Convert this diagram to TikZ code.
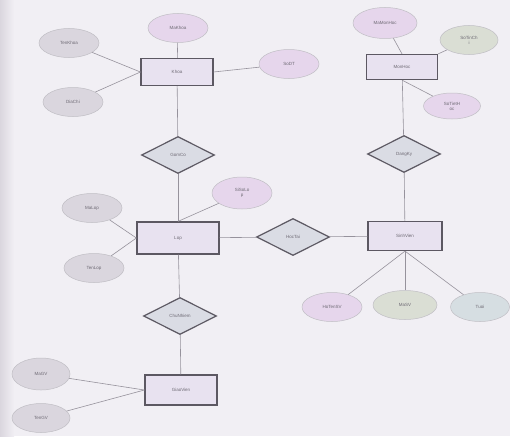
\documentclass[tikz,border=0pt]{standalone}
\usepackage{fontspec}
\setmainfont{Liberation Sans}
\usetikzlibrary{shapes.geometric}
\definecolor{paper}{RGB}{241,239,244}
\definecolor{edgegray}{RGB}{150,146,156}
\definecolor{boxline}{RGB}{92,88,98}
\definecolor{txtgray}{RGB}{110,106,116}
\definecolor{attrpink}{RGB}{230,214,236}
\definecolor{attrgray}{RGB}{218,214,222}
\definecolor{attrgreen}{RGB}{218,222,212}
\definecolor{attrblue}{RGB}{214,222,226}
\definecolor{entfill}{RGB}{232,226,240}
\definecolor{relfill}{RGB}{218,220,228}
\begin{document}
\begin{tikzpicture}[x=1pt, y=-1pt,
  every node/.style={font=\fontsize{4.5}{5}\selectfont, text=txtgray, align=center},
  entity/.style={rectangle, draw=boxline, line width=1.2pt, fill=entfill, minimum width=72pt, minimum height=27pt, inner sep=0pt},
  rel/.style={diamond, draw=boxline, line width=1.2pt, fill=relfill, aspect=1.9, minimum width=73pt, minimum height=37pt, inner sep=0pt},
  attr/.style={ellipse, draw=edgegray!60, line width=.5pt, minimum width=60pt, minimum height=29pt, inner sep=0pt},
  conn/.style={draw=edgegray, line width=.6pt}]
\fill[paper] (0,0) rectangle (510,436);
\fill[left color=attrgray, right color=paper] (0,0) rectangle (14,436);
\node[entity] (khoa) at (177,72){Khoa};
\node[attr, fill=attrpink] (makhoa) at (178,28){MaKhoa};
\node[attr, fill=attrgray] (tenkhoa) at (69,43){TenKhoa};
\node[attr, fill=attrgray] (diachi) at (73,102){DiaChi};
\node[attr, fill=attrpink] (sodt) at (289,64){SoDT};
\draw[conn](tenkhoa) -- (khoa.west);
\draw[conn](diachi) -- (khoa.west);
\draw[conn](makhoa) -- (khoa);
\draw[conn](sodt) -- (khoa.east);
\node[rel] (gom) at (178,155){GomCo};
\draw[conn](khoa) -- (gom);
\node[entity, minimum width=82pt, minimum height=32pt] (lop) at (178,238){Lop};
\node[attr, fill=attrgray] (malop) at (92,208){MaLop};
\node[attr, fill=attrgray] (tenlop) at (94,268){TenLop};
\node[attr, fill=attrpink, minimum height=32pt] (siso) at (242,193){SiSoLo\\p};
\draw[conn](malop) -- (lop.west);
\draw[conn](tenlop) -- (lop.west);
\draw[conn](siso) -- (lop.north);
\draw[conn](gom) -- (lop);
\node[rel] (hoctai) at (293,237){HocTai};
\draw[conn](lop) -- (hoctai);
\node[entity, minimum width=74pt, minimum height=29pt] (sv) at (405,236){SinhVien};
\draw[conn](hoctai) -- (sv);
\node[attr, fill=attrpink] (hoten) at (332,307){HoTenSV};
\node[attr, fill=attrgreen, minimum width=64pt] (masv) at (405,305){MaSV};
\node[attr, fill=attrblue, minimum width=59pt] (tuoi) at (480,307){Tuoi};
\draw[conn](hoten) -- (sv.south);
\draw[conn](masv) -- (sv.south);
\draw[conn](tuoi) -- (sv.south);
\node[rel] (dangky) at (404,154){DangKy};
\draw[conn](dangky) -- (sv);
\node[entity, minimum width=71pt, minimum height=25pt] (mon) at (402,67){MonHoc};
\node[attr, fill=attrpink, minimum width=64pt, minimum height=31pt] (mamon) at (385,23){MaMonHoc};
\node[attr, fill=attrgreen, minimum width=58pt] (tinchi) at (469,40){SoTinCh\\i};
\node[attr, fill=attrpink, minimum width=57pt, minimum height=26pt] (sotiet) at (452,106){SoTietH\\oc};
\draw[conn](mamon) -- (mon.north);
\draw[conn](tinchi) -- (mon.north east);
\draw[conn](sotiet) -- (mon.south);
\draw[conn](mon) -- (dangky);
\node[rel] (chunhiem) at (180,316){ChuNhiem};
\draw[conn](lop) -- (chunhiem);
\node[entity, minimum height=30pt] (gv) at (181,390){GiaoVien};
\node[attr, fill=attrgray, minimum width=58pt, minimum height=32pt] (magv) at (41,374){MaGV};
\node[attr, fill=attrgray, minimum width=58pt] (tengv) at (41,418){TenGV};
\draw[conn](magv) -- (gv.west);
\draw[conn](tengv) -- (gv.west);
\draw[conn](chunhiem) -- (gv);
\end{tikzpicture}
\end{document}
